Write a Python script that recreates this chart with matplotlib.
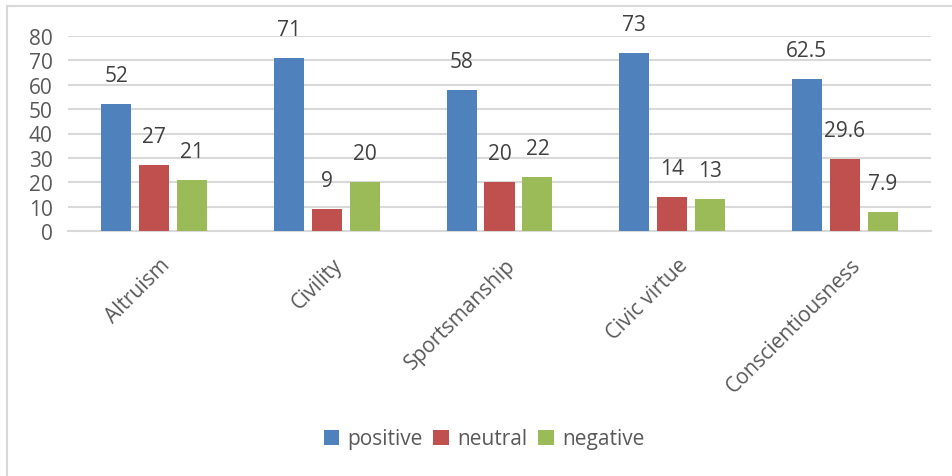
import numpy as np
import matplotlib.pyplot as plt
from matplotlib.lines import Line2D
from matplotlib.transforms import ScaledTranslation

plt.rcParams['font.family'] = ['Open Sans', 'DejaVu Sans']

categories = ["Altruism", "Civility", "Sportsmanship", "Civic virtue", "Conscientiousness"]
positive = [52, 71, 58, 73, 62.5]
neutral = [27, 9, 20, 14, 29.6]
negative = [21, 20, 22, 13, 7.9]
series_names = ["positive", "neutral", "negative"]
colors = ["#4f81bd", "#c0504d", "#9bbb59"]

W, H = 952, 477
fig = plt.figure(figsize=(W / 100, H / 100), dpi=100)
ax = fig.add_axes([68 / W, (H - 232) / H, 863 / W, 195 / H])

x = np.arange(len(categories))
step = 0.22
width = 0.174
grid_c = "#d9d9d9"
text_c = "#595959"
fs = 15

for i, (vals, name, col) in enumerate(zip([positive, neutral, negative], series_names, colors)):
    xs = x + (i - 1) * step
    ax.bar(xs, vals, width=width, color=col, label=name, zorder=3)
    for xi, v in zip(xs, vals):
        ax.annotate(f"{v:g}", (xi, v), xytext=(0, 13), textcoords="offset points",
                    ha="center", va="bottom", fontsize=fs, color="#404040")

ax.set_xlim(-0.5, len(categories) - 0.5)
ax.set_ylim(0, 80)
ax.set_yticks(range(0, 81, 10))
ax.yaxis.grid(True, color=grid_c, linewidth=1.5, zorder=0)
ax.set_axisbelow(True)
for s in ["top", "right", "left"]:
    ax.spines[s].set_visible(False)
ax.spines["bottom"].set_color(grid_c)
ax.spines["bottom"].set_linewidth(1.5)
ax.tick_params(axis="both", length=0, labelsize=fs, labelcolor=text_c)
ax.tick_params(axis="y", pad=11)

ax.set_xticks(x)
ax.set_xticklabels(categories, rotation=45, ha="right", rotation_mode="anchor")
for lbl in ax.get_xticklabels():
    lbl.set_transform(lbl.get_transform() + ScaledTranslation(0.05, -0.18, fig.dpi_scale_trans))

leg = fig.legend(loc="center", bbox_to_anchor=(484 / W, (H - 440) / H), ncol=3, frameon=False,
                 fontsize=fs, handlelength=0.75, handleheight=0.75, handletextpad=0.4,
                 columnspacing=0.5)
for t in leg.get_texts():
    t.set_color(text_c)

# chart border
fig.add_artist(Line2D([7 / W, 1], [1 - 7 / H, 1 - 7 / H], color=grid_c, linewidth=1.5,
                      transform=fig.transFigure))
fig.add_artist(Line2D([7 / W, 7 / W], [0, 1 - 7 / H], color=grid_c, linewidth=1.5,
                      transform=fig.transFigure))

fig.savefig("out.png", dpi=100)
